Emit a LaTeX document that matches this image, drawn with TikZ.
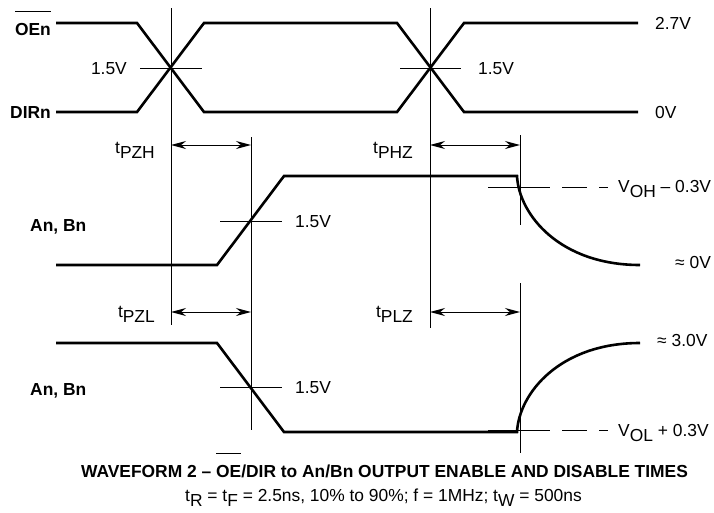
\documentclass[tikz,border=0pt]{standalone}
\usepackage{fontspec}
\setmainfont{Liberation Sans}
\usetikzlibrary{arrows.meta}
\newcommand{\lo}[1]{\raisebox{-5pt}{#1}}
\newcommand{\ovl}[1]{$\overline{\rule{0pt}{22.5pt}\mbox{#1}}$}
\begin{document}
\begin{tikzpicture}[x=1pt, y=-1pt,
        txt/.style={inner sep=0pt, font=\fontsize{17.4}{20}\selectfont},
        btxt/.style={txt, font=\fontsize{17.4}{20}\selectfont\bfseries},
        wave/.style={line width=2.6pt, line join=miter},
        guide/.style={line width=0.8pt},
        timing/.style={{Stealth[length=15pt,width=8pt]}-{Stealth[length=15pt,width=8pt]}, line width=1pt}]
        \useasboundingbox (0,0) rectangle (714,512);
        % reference lines
        \coordinate (e1t) at (171,8);   \coordinate (e1b) at (171,325);
        \coordinate (e2t) at (430,8);   \coordinate (e2b) at (430,328);
        \coordinate (m1t) at (251,137); \coordinate (m1b) at (251,430);
        \coordinate (m2t) at (520,135); \coordinate (m2m) at (520,225);
        \coordinate (m2n) at (520,283); \coordinate (m2b) at (520,453);
        \draw[guide] (e1t) -- (e1b);
        \draw[guide] (e2t) -- (e2b);
        \draw[guide] (m1t) -- (m1b);
        \draw[guide] (m2t) -- (m2m);
        \draw[guide] (m2n) -- (m2b);
        % OEn / DIRn
        \draw[wave] (56,23) -- (137,23) -- (204,112) -- (397,112) -- (464,23) -- (638,23);
        \draw[wave] (56,112) -- (137,112) -- (204,23) -- (397,23) -- (464,112) -- (638,112);
        \draw[guide] (140,68) -- (202,68);
        \draw[guide] (400,68) -- (461,68);
        \node[btxt, anchor=base east] (oe) at (51,35) {\ovl{OEn}};
        \node[btxt, anchor=base east] (dir) at (51,118) {DIRn};
        \node[txt, anchor=base east] (v1) at (127,74) {1.5V};
        \node[txt, anchor=base west] (v2) at (478,74) {1.5V};
        \node[txt, anchor=base west] (vh) at (655,29) {2.7V};
        \node[txt, anchor=base west] (vl) at (655,118) {0V};
        % enable / disable times
        \coordinate (pzhA) at (171,145); \coordinate (pzhB) at (251,145);
        \coordinate (phzA) at (430,145); \coordinate (phzB) at (520,145);
        \coordinate (pzlA) at (171,312); \coordinate (pzlB) at (251,312);
        \coordinate (plzA) at (430,312); \coordinate (plzB) at (520,312);
        \draw[timing] (pzhA) -- (pzhB);
        \draw[timing] (phzA) -- (phzB);
        \draw[timing] (pzlA) -- (pzlB);
        \draw[timing] (plzA) -- (plzB);
        \node[txt, anchor=base east] (tpzh) at (155,153) {t\lo{PZH}};
        \node[txt, anchor=base east] (tphz) at (413,153) {t\lo{PHZ}};
        \node[txt, anchor=base east] (tpzl) at (155,317) {t\lo{PZL}};
        \node[txt, anchor=base east] (tplz) at (413,317) {t\lo{PLZ}};
        % An, Bn going high
        \draw[wave] (56,265) -- (217,265) -- (284,176) -- (517,176)
          .. controls (519,215) and (560,265) .. (640,265);
        \draw[guide] (220,221) -- (282,221);
        \draw[guide, dash pattern={on 62pt off 12pt on 25pt off 12pt on 9pt}] (488,187) -- (608,187);
        \node[btxt, anchor=base west] (ab1) at (30,231) {An, Bn};
        \node[txt, anchor=base west] (v3) at (295,227) {1.5V};
        \node[txt, anchor=base west] (voh) at (618,192) {V\lo{OH} – 0.3V};
        \node[txt, anchor=base west] (z0) at (675,268) {≈ 0V};
        % An, Bn going low
        \draw[wave] (56,343) -- (217,343) -- (284,432) -- (517,432)
          .. controls (519,393) and (560,343) .. (640,343);
        \draw[guide] (220,387) -- (282,387);
        \draw[guide, dash pattern={on 62pt off 12pt on 25pt off 12pt on 9pt}] (488,430) -- (608,430);
        \node[btxt, anchor=base west] (ab2) at (30,395) {An, Bn};
        \node[txt, anchor=base west] (v4) at (295,393) {1.5V};
        \node[txt, anchor=base west] (vol) at (618,436) {V\lo{OL} + 0.3V};
        \node[txt, anchor=base west] (z3) at (657,346) {≈ 3.0V};
        % caption
        \node[btxt, anchor=base] (cap) at (384.5,477) {WAVEFORM 2 – \ovl{OE}/DIR to An/Bn OUTPUT ENABLE AND DISABLE TIMES};
        \node[txt, anchor=base] (cond) at (383.5,501) {t\lo{R} = t\lo{F} = 2.5ns, 10\% to 90\%; f = 1MHz; t\lo{W} = 500ns};
\end{tikzpicture}
\end{document}
